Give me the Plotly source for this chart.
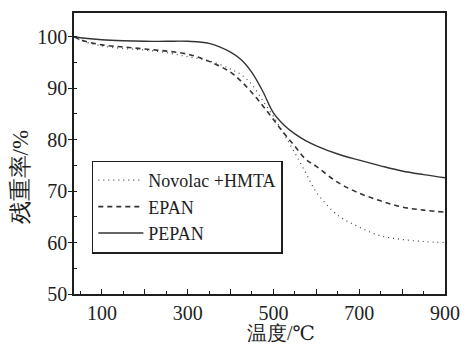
import plotly.graph_objects as go

temps = [35, 50, 100, 150, 200, 250, 300, 350, 400, 425, 450, 475, 500, 525,
         550, 575, 600, 650, 700, 750, 800, 850, 900]
novolac = [100.0, 99.3, 98.2, 97.7, 97.4, 96.9, 96.1, 95.3, 93.7, 92.6, 90.7, 87.6,
           84.5, 81.0, 77.4, 73.6, 69.8, 65.3, 63.0, 61.3, 60.6, 60.2, 60.0]
epan = [100.0, 99.4, 98.4, 98.0, 97.6, 97.2, 96.6, 95.2, 93.1, 91.3, 89.1, 86.6,
        83.9, 81.2, 78.7, 76.2, 74.8, 71.7, 69.6, 68.1, 66.9, 66.3, 65.9]
pepan = [100.0, 99.8, 99.4, 99.2, 99.1, 99.1, 99.1, 98.7, 97.0, 95.5, 93.0, 89.4,
         85.2, 82.8, 81.1, 79.8, 78.8, 77.2, 76.0, 74.9, 73.9, 73.2, 72.6]

series_names = ["Novolac +HMTA", "EPAN", "PEPAN"]
x_tickvals = [100, 200, 300, 400, 500, 600, 700, 800, 900]
x_ticktext = ["100", "", "300", "", "500", "", "700", "", "900"]
y_tickvals = [50, 60, 70, 80, 90, 100]
x_title = "温度/℃"
y_title = "残重率/%"

serif = "'Liberation Serif', 'Times New Roman', Times, 'DejaVu Serif', serif"
ink = "#1e1e1e"

fig = go.Figure()
fig.add_trace(go.Scatter(x=temps, y=novolac, mode="lines", name=series_names[0],
                         line=dict(color="#444444", width=1.2, dash="1px,4px", shape="spline")))
fig.add_trace(go.Scatter(x=temps, y=epan, mode="lines", name=series_names[1],
                         line=dict(color="#333333", width=1.6, dash="5px,4px", shape="spline")))
fig.add_trace(go.Scatter(x=temps, y=pepan, mode="lines", name=series_names[2],
                         line=dict(color="#333333", width=1.4, shape="spline")))

fig.update_layout(
    width=471, height=346,
    margin=dict(l=74, r=22, t=11, b=52),
    paper_bgcolor="white", plot_bgcolor="white",
    font=dict(family=serif, size=20, color=ink),
    showlegend=True,
    legend=dict(x=0.048, y=0.475, xanchor="left", yanchor="top",
                bgcolor="white", bordercolor=ink, borderwidth=1.5,
                font=dict(family=serif, size=18, color=ink),
                itemwidth=45, entrywidth=150, tracegroupgap=0),
    xaxis=dict(range=[35, 900], tickmode="array", tickvals=x_tickvals, ticktext=x_ticktext,
               ticks="inside", ticklen=5, tickwidth=1.2, tickcolor=ink,
               showline=True, linecolor=ink, linewidth=1.5, mirror=True,
               showgrid=False, zeroline=False,
               tickfont=dict(family=serif, size=20, color=ink),
               minor=dict(dtick=50, tick0=0, ticks="inside", ticklen=3, tickcolor=ink, showgrid=False)),
    yaxis=dict(range=[50, 104.6], tickmode="array", tickvals=y_tickvals,
               ticks="outside", ticklen=4, tickwidth=1.2, tickcolor=ink,
               ticklabelstandoff=-3,
               showline=True, linecolor=ink, linewidth=1.5, mirror=True,
               showgrid=False, zeroline=False,
               tickfont=dict(family=serif, size=20, color=ink),
               minor=dict(dtick=5, tick0=0, ticks="inside", ticklen=3, tickcolor=ink, showgrid=False)),
    annotations=[
        dict(text=x_title, xref="paper", yref="paper", x=0.557, y=-0.138,
             xanchor="center", yanchor="middle", showarrow=False,
             font=dict(family=serif, size=20, color=ink)),
        dict(text=y_title, xref="paper", yref="paper", x=-0.144, y=0.417,
             xanchor="center", yanchor="middle", showarrow=False, textangle=-90,
             font=dict(family=serif, size=23, color=ink)),
    ],
)

fig.write_html("out.html")
